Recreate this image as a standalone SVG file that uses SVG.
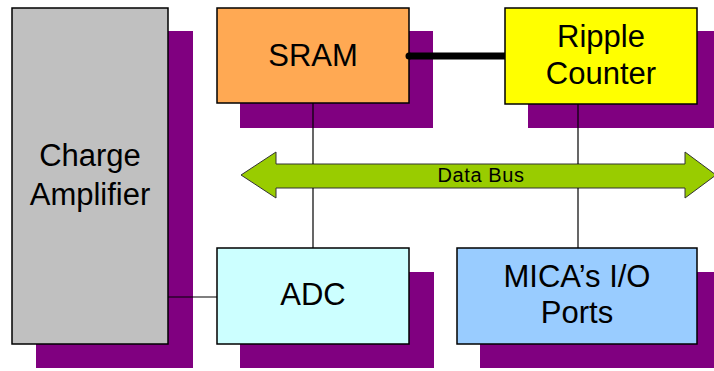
<svg xmlns="http://www.w3.org/2000/svg" width="714" height="371" viewBox="0 0 714 371">
  <style>
    .shadow { fill: #800080; }
    .box { stroke: #000000; stroke-width: 1.5; }
    .lbl { font-family: "Liberation Sans", Arial, sans-serif; font-size: 31px; fill: #000000; text-anchor: middle; }
    .wire { stroke: #000000; stroke-width: 1.2; fill: none; }
  </style>
  <rect width="714" height="371" fill="#ffffff"/>

  <!-- drop shadows -->
  <g id="shadows">
    <rect class="shadow" x="36" y="31" width="157" height="337"/>
    <rect class="shadow" x="240" y="31" width="193" height="97"/>
    <rect class="shadow" x="528" y="31" width="192" height="97"/>
    <rect class="shadow" x="240" y="272" width="194" height="96"/>
    <rect class="shadow" x="480" y="272" width="240" height="96"/>
  </g>

  <!-- data bus double arrow -->
  <g id="data-bus">
    <path d="M241,175 L276,152 L276,164 L685,164 L685,152 L716,175 L685,198 L685,188 L276,188 L276,198 Z" fill="#99CC00" stroke="#333333" stroke-width="1"/>
    <text x="481" y="182" font-family="'Liberation Sans', Arial, sans-serif" font-size="20" text-anchor="middle" letter-spacing="0.6">Data Bus</text>
  </g>

  <g id="charge-amplifier">
    <rect class="box" x="12" y="8" width="156" height="336" fill="#C0C0C0"/>
    <text class="lbl" x="90" y="166">Charge</text>
    <text class="lbl" x="90" y="205">Amplifier</text>
  </g>

  <g id="sram">
    <rect class="box" x="217" y="8" width="192" height="95" fill="#FFA953"/>
    <text class="lbl" x="313" y="66">SRAM</text>
  </g>

  <g id="ripple-counter">
    <rect class="box" x="505" y="8" width="192" height="96" fill="#FFFF00"/>
    <text class="lbl" x="601" y="47">Ripple</text>
    <text class="lbl" x="601" y="84">Counter</text>
  </g>

  <g id="adc">
    <rect class="box" x="217" y="248" width="192" height="96" fill="#CCFFFF"/>
    <text class="lbl" x="313" y="305">ADC</text>
  </g>

  <g id="mica-io">
    <rect class="box" x="457" y="248" width="240" height="96" fill="#99CCFF"/>
    <text class="lbl" x="577" y="287">MICA’s I/O</text>
    <text class="lbl" x="577" y="323">Ports</text>
  </g>

  <!-- connectors: taps to the bus stop at its edges -->
  <g id="connectors">
    <line class="wire" x1="313" y1="103" x2="313" y2="164"/>
    <line class="wire" x1="313" y1="188" x2="313" y2="248"/>
    <line class="wire" x1="578" y1="104" x2="578" y2="164"/>
    <line class="wire" x1="578" y1="188" x2="578" y2="248"/>
    <line class="wire" x1="168" y1="297" x2="217" y2="297"/>
    <line x1="409" y1="56" x2="505" y2="56" stroke="#000000" stroke-width="7"/>
    <circle cx="409" cy="56" r="3.5" fill="#000000"/>
  </g>
</svg>
